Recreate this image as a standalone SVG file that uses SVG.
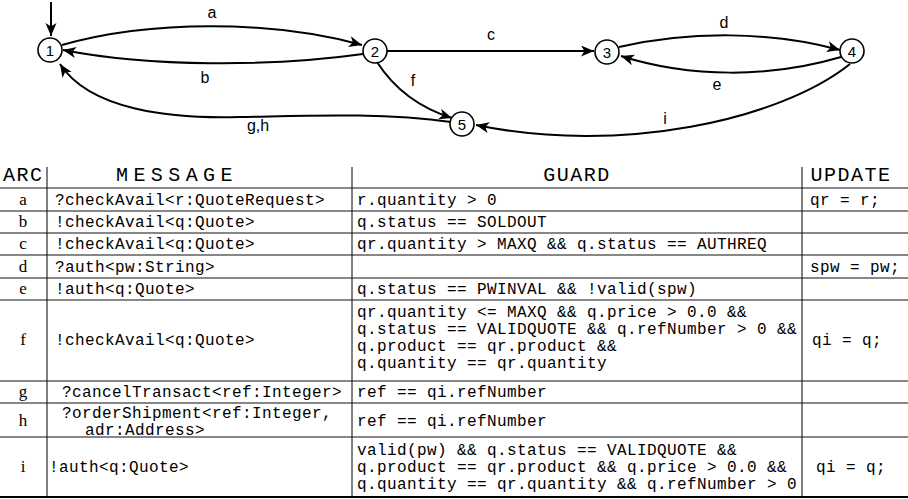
<svg xmlns="http://www.w3.org/2000/svg" width="908" height="499" viewBox="0 0 908 499">
<style>
.node circle{fill:#fff;stroke:#000;stroke-width:1.6}
.node text{font-family:"Liberation Sans",Arial,sans-serif;font-size:15px;text-anchor:middle}
.edge{fill:none;stroke:#000;stroke-width:2;marker-end:url(#arr)}
.lbl{font-family:"Liberation Sans",Arial,sans-serif;font-size:16px;text-anchor:middle}
.tt{font-family:"Liberation Mono","Courier New",monospace;font-size:16px;letter-spacing:0.4px}
.hd{font-family:"Liberation Mono","Courier New",monospace;font-size:20px;letter-spacing:1.5px}
.arc{font-family:"Liberation Serif","Times New Roman",serif;font-size:17px;text-anchor:middle}
.rule{stroke:#111;stroke-width:1.2}
.vrule{stroke:#000;stroke-width:1}
</style>
<defs>
<marker id="arr" markerUnits="userSpaceOnUse" markerWidth="14" markerHeight="12" refX="13" refY="5.5" orient="auto">
<path d="M0,0 L13,5.5 L0,11 L3.5,5.5 Z" fill="#000"/>
</marker>
</defs>
<g id="connectors">
<path class="edge" d="M51,2 L51,36"/>
<path class="edge" d="M62,45 C150,20 270,20 362,45"/>
<path class="edge" d="M363,54 C270,67 150,67 63,50"/>
<path class="edge" d="M387,51 L594,51"/>
<path class="edge" d="M619,47 C690,31 770,31 840,50"/>
<path class="edge" d="M841,57 C770,78 690,78 621,56"/>
<path class="edge" d="M377,62 C395,90 420,108 452,118"/>
<path class="edge" d="M451,122 C380,112 300,116 240,117 C170,119 90,110 60,64"/>
<path class="edge" d="M850,64 C780,120 620,155 476,125"/>
<text class="lbl" x="212" y="18">a</text>
<text class="lbl" x="205" y="83">b</text>
<text class="lbl" x="491" y="40">c</text>
<text class="lbl" x="724" y="28">d</text>
<text class="lbl" x="717" y="90">e</text>
<text class="lbl" x="413" y="86">f</text>
<text class="lbl" x="258" y="131">g,h</text>
<text class="lbl" x="665" y="124">i</text>
</g>
<g id="n1" class="node"><circle cx="50" cy="50" r="12"/><text x="50" y="55.5">1</text></g>
<g id="n2" class="node"><circle cx="375" cy="51" r="12"/><text x="375" y="56.5">2</text></g>
<g id="n3" class="node"><circle cx="607" cy="52" r="12"/><text x="607" y="57.5">3</text></g>
<g id="n4" class="node"><circle cx="852" cy="51" r="12"/><text x="852" y="56.5">4</text></g>
<g id="n5" class="node"><circle cx="462" cy="124" r="12"/><text x="462" y="129.5">5</text></g>
<g id="table">
<line class="vrule" x1="47" y1="167" x2="47" y2="497"/>
<line class="vrule" x1="352" y1="167" x2="352" y2="497"/>
<line class="vrule" x1="802" y1="167" x2="802" y2="497"/>
<line class="rule" x1="0" y1="188" x2="908" y2="188" stroke-width="1.6"/>
<line class="rule" x1="0" y1="211" x2="908" y2="211"/>
<line class="rule" x1="0" y1="233" x2="908" y2="233"/>
<line class="rule" x1="0" y1="255" x2="908" y2="255"/>
<line class="rule" x1="0" y1="278" x2="908" y2="278"/>
<line class="rule" x1="0" y1="300" x2="908" y2="300"/>
<line class="rule" x1="0" y1="381" x2="908" y2="381"/>
<line class="rule" x1="0" y1="403" x2="908" y2="403"/>
<line class="rule" x1="0" y1="437" x2="908" y2="437"/>
<line x1="0" y1="497" x2="908" y2="497" stroke="#000" stroke-width="1.8"/>
<text class="hd" x="3" y="181">ARC</text>
<text class="hd" x="116" y="181" textLength="118" lengthAdjust="spacing">MESSAGE</text>
<text class="hd" x="577" y="181" text-anchor="middle">GUARD</text>
<text class="hd" x="851" y="181" text-anchor="middle">UPDATE</text>
<text class="arc" x="23" y="205">a</text>
<text class="arc" x="23" y="227">b</text>
<text class="arc" x="23" y="249">c</text>
<text class="arc" x="23" y="272">d</text>
<text class="arc" x="23" y="294">e</text>
<text class="arc" x="23" y="345">f</text>
<text class="arc" x="23" y="397">g</text>
<text class="arc" x="23" y="426">h</text>
<text class="arc" x="23" y="472">i</text>
<text class="tt" x="55" y="205">?checkAvail&lt;r:QuoteRequest&gt;</text>
<text class="tt" x="55" y="227">!checkAvail&lt;q:Quote&gt;</text>
<text class="tt" x="55" y="249">!checkAvail&lt;q:Quote&gt;</text>
<text class="tt" x="55" y="272">?auth&lt;pw:String&gt;</text>
<text class="tt" x="55" y="294">!auth&lt;q:Quote&gt;</text>
<text class="tt" x="55" y="345">!checkAvail&lt;q:Quote&gt;</text>
<text class="tt" x="62" y="397">?cancelTransact&lt;ref:Integer&gt;</text>
<text class="tt" x="62" y="418">?orderShipment&lt;ref:Integer,</text>
<text class="tt" x="85" y="435">adr:Address&gt;</text>
<text class="tt" x="49" y="472">!auth&lt;q:Quote&gt;</text>
<text class="tt" x="357" y="205">r.quantity &gt; 0</text>
<text class="tt" x="357" y="227">q.status == SOLDOUT</text>
<text class="tt" x="357" y="249">qr.quantity &gt; MAXQ &amp;&amp; q.status == AUTHREQ</text>
<text class="tt" x="357" y="294">q.status == PWINVAL &amp;&amp; !valid(spw)</text>
<text class="tt" x="357" y="317">qr.quantity &lt;= MAXQ &amp;&amp; q.price &gt; 0.0 &amp;&amp;</text>
<text class="tt" x="357" y="334">q.status == VALIDQUOTE &amp;&amp; q.refNumber &gt; 0 &amp;&amp;</text>
<text class="tt" x="357" y="351">q.product == qr.product &amp;&amp;</text>
<text class="tt" x="357" y="368">q.quantity == qr.quantity</text>
<text class="tt" x="357" y="397">ref == qi.refNumber</text>
<text class="tt" x="357" y="426">ref == qi.refNumber</text>
<text class="tt" x="357" y="455">valid(pw) &amp;&amp; q.status == VALIDQUOTE &amp;&amp;</text>
<text class="tt" x="357" y="472">q.product == qr.product &amp;&amp; q.price &gt; 0.0 &amp;&amp;</text>
<text class="tt" x="357" y="489">q.quantity == qr.quantity &amp;&amp; q.refNumber &gt; 0</text>
<text class="tt" x="810" y="205">qr = r;</text>
<text class="tt" x="810" y="272">spw = pw;</text>
<text class="tt" x="812" y="345">qi = q;</text>
<text class="tt" x="816" y="472">qi = q;</text>
</g>
</svg>
